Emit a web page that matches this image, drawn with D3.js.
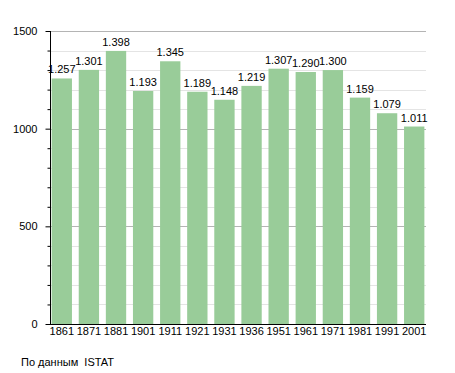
<!DOCTYPE html>
<html>
<head>
<meta charset="utf-8">
<script src="https://cdn.jsdelivr.net/npm/d3@7"></script>
<style>
  body { margin: 0; background: #fff; }
  text { font-family: "Liberation Sans", Arial, sans-serif; }
</style>
</head>
<body>
<svg width="455" height="373"></svg>
<script>
let years = ["1861", "1871", "1881", "1901", "1911", "1921", "1931", "1936", "1951", "1961", "1971", "1981", "1991", "2001"];
let population = [1257, 1301, 1398, 1193, 1345, 1189, 1148, 1219, 1307, 1290, 1300, 1159, 1079, 1011];
let yTicks = [0, 500, 1000, 1500];

let svg = d3.select("svg");
let plotLeft = 50, plotRight = 426, plotTop = 31, plotBottom = 324;

let x = d3.scaleBand()
  .domain(years)
  .range([plotLeft, plotRight])
  .paddingInner(0.25)
  .paddingOuter(0.06);

let y = d3.scaleLinear()
  .domain([0, 1500])
  .range([plotBottom, plotTop]);

// light grid every 100, darker every 500
svg.append("g")
  .selectAll("line")
  .data(d3.range(100, 1600, 100))
  .enter().append("line")
    .attr("x1", plotLeft)
    .attr("x2", plotRight)
    .attr("y1", d => Math.round(y(d)) + 0.5)
    .attr("y2", d => Math.round(y(d)) + 0.5)
    .attr("stroke", d => d % 500 == 0 ? "#b4b4b4" : "#e4e4e4")
    .attr("stroke-width", 1);

svg.append("g")
  .selectAll("rect")
  .data(population)
  .enter().append("rect")
    .attr("x", (d, i) => x(years[i]))
    .attr("y", d => y(d))
    .attr("width", x.bandwidth())
    .attr("height", d => plotBottom - y(d))
    .attr("fill", "#99cc99");

svg.append("g")
  .selectAll("text")
  .data(population)
  .enter().append("text")
    .attr("x", (d, i) => x(years[i]) + x.bandwidth() / 2)
    .attr("y", d => y(d) - 5)
    .attr("text-anchor", "middle")
    .attr("font-size", 11)
    .attr("fill", "#000")
    .text(d => d3.format(",")(d).replace(",", "."));

// y axis
let yAxis = d3.axisLeft(y)
  .tickValues(d3.range(0, 1600, 100))
  .tickSize(5)
  .tickFormat(d => yTicks.includes(d) ? d : "");

let gy = svg.append("g")
  .attr("transform", "translate(" + (plotLeft + 0.5) + ",0)")
  .call(yAxis);
gy.select(".domain").attr("d", "M0," + plotTop + "V" + plotBottom);
gy.selectAll("text").attr("font-size", 11).attr("x", -13).attr("font-family", "Liberation Sans, Arial, sans-serif");
gy.selectAll(".tick line").attr("x2", d => d % 500 == 0 ? -5 : -3);

// x axis
let gx = svg.append("g")
  .attr("transform", "translate(0," + (plotBottom + 0.5) + ")")
  .call(d3.axisBottom(x).tickSize(0).tickPadding(3));
gx.select(".domain").attr("d", "M" + plotLeft + ",0H" + plotRight);
gx.selectAll("text").attr("font-size", 11).attr("font-family", "Liberation Sans, Arial, sans-serif");

svg.append("text")
  .attr("x", 21)
  .attr("y", 366)
  .attr("font-size", 11)
  .style("white-space", "pre")
  .text("По данным  ISTAT");
</script>
</body>
</html>
